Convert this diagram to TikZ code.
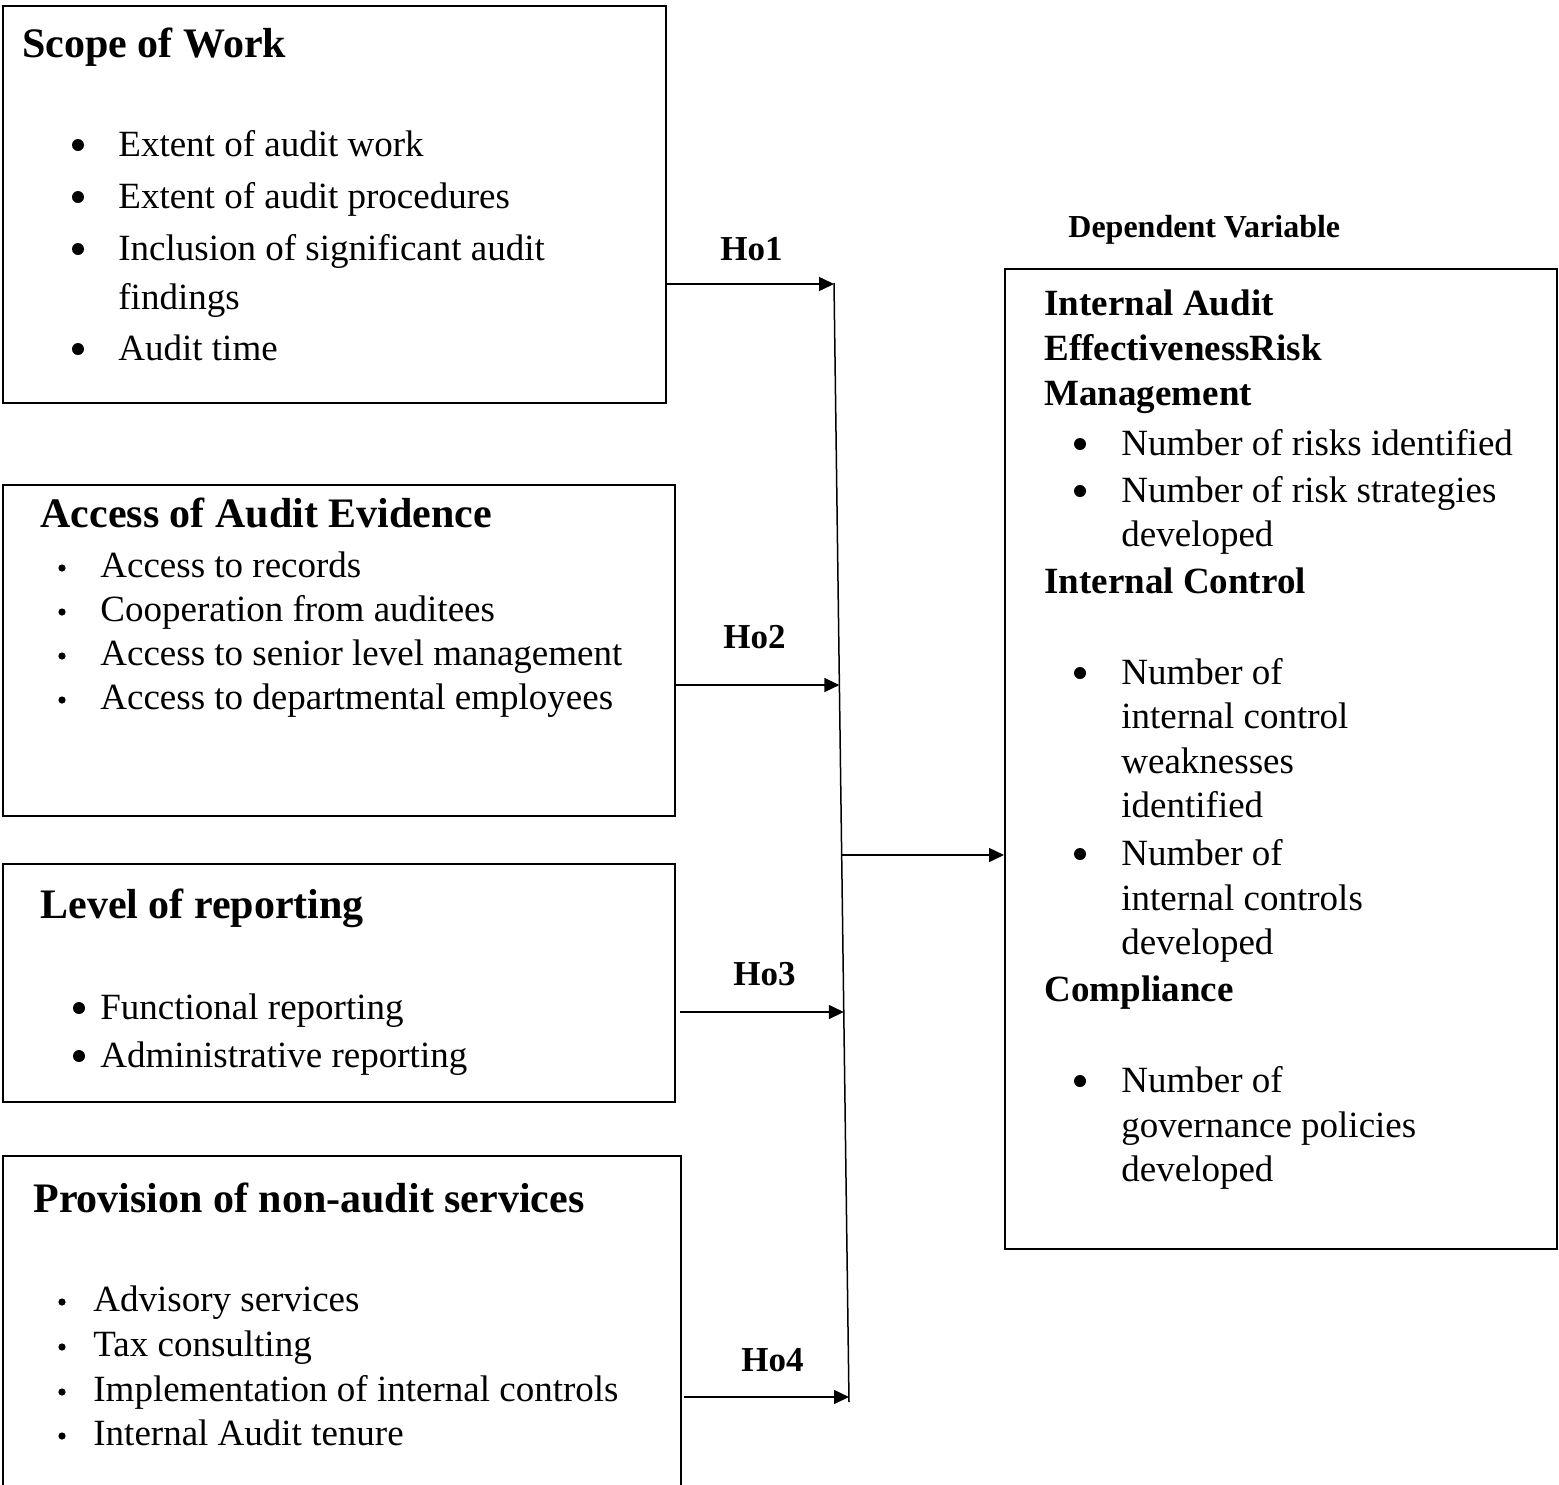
\documentclass[tikz,border=0pt]{standalone}
\usepackage{fontspec}
\setmainfont{Liberation Serif}
\usetikzlibrary{arrows.meta}
\begin{document}
\begin{tikzpicture}[x=0.5pt,y=-0.5pt,
  box/.style={draw,line width=1pt,inner sep=0pt,anchor=north west},
  body/.style={anchor=base west,inner sep=0pt,font=\fontsize{18.5}{22}\selectfont},
  head/.style={anchor=base west,inner sep=0pt,font=\fontsize{21}{25}\selectfont\bfseries},
  rhead/.style={anchor=base west,inner sep=0pt,font=\fontsize{18.5}{22}\selectfont\bfseries},
  bigdot/.style={circle,fill=black,inner sep=0pt,minimum size=6pt,yshift=5.5pt},
  smalldot/.style={circle,fill=black,inner sep=0pt,minimum size=3.6pt,yshift=4.5pt},
  hlabel/.style={anchor=base west,inner sep=0pt,font=\fontsize{17.5}{20}\selectfont\bfseries},
  deplabel/.style={anchor=base west,inner sep=0pt,font=\fontsize{16}{19}\selectfont\bfseries},
  conn/.style={line width=0.75pt,-{Triangle[length=7.5pt,width=7pt]}}
]
\useasboundingbox (0,0) rectangle (1559,1484);

% boxes
\node[box,minimum width=331.5pt,minimum height=198.5pt] (scope) at (2,5) {};
\node[box,minimum width=336pt,minimum height=165.5pt] (access) at (2,484) {};
\node[box,minimum width=336pt,minimum height=119pt] (level) at (2,863) {};
\node[box,minimum width=339pt,minimum height=175pt] (prov) at (2,1155) {};
\node[box,minimum width=276pt,minimum height=490pt] (dep) at (1004,268) {};

% box 1
\node[head] (h1) at (22,57) {Scope of Work};
\node[bigdot] (b11) at (78,156) {};
\node[body] (t11) at (118,156) {Extent of audit work};
\node[bigdot] (b12) at (78,208) {};
\node[body] (t12) at (118,208) {Extent of audit procedures};
\node[bigdot] (b13) at (78,260) {};
\node[body] (t13) at (118,260) {Inclusion of significant audit};
\node[body] (t13b) at (118,309) {findings};
\node[bigdot] (b14) at (78,360) {};
\node[body] (t14) at (118,360) {Audit time};

% box 2
\node[head] (h2) at (40,527) {Access of Audit Evidence};
\node[smalldot] (b21) at (62,577) {};
\node[body] (t21) at (100,577) {Access to records};
\node[smalldot] (b22) at (62,621) {};
\node[body] (t22) at (100,621) {Cooperation from auditees};
\node[smalldot] (b23) at (62,665) {};
\node[body] (t23) at (100,665) {Access to senior level management};
\node[smalldot] (b24) at (62,709) {};
\node[body] (t24) at (100,709) {Access to departmental employees};

% box 3
\node[head] (h3) at (40,918) {Level of reporting};
\node[bigdot] (b31) at (79,1019) {};
\node[body] (t31) at (100,1019) {Functional reporting};
\node[bigdot] (b32) at (79,1067) {};
\node[body] (t32) at (100,1067) {Administrative reporting};

% box 4
\node[head] (h4) at (33,1212) {Provision of non-audit services};
\node[smalldot] (b41) at (62,1311) {};
\node[body] (t41) at (93,1311) {Advisory services};
\node[smalldot] (b42) at (62,1356) {};
\node[body] (t42) at (93,1356) {Tax consulting};
\node[smalldot] (b43) at (62,1401) {};
\node[body] (t43) at (93,1401) {Implementation of internal controls};
\node[smalldot] (b44) at (62,1445) {};
\node[body] (t44) at (93,1445) {Internal Audit tenure};

% dependent box
\node[deplabel] (dv) at (1068,237) {Dependent Variable};
\node[rhead] (r1) at (1044,315) {Internal Audit};
\node[rhead] (r2) at (1044,360) {EffectivenessRisk};
\node[rhead] (r3) at (1044,405) {Management};
\node[bigdot] (rb1) at (1080,455) {};
\node[body] (rt1) at (1121,455) {Number of risks identified};
\node[bigdot] (rb2) at (1080,502) {};
\node[body] (rt2) at (1121,502) {Number of risk strategies};
\node[body] (rt2b) at (1121,546) {developed};
\node[rhead] (r4) at (1044,593) {Internal Control};
\node[bigdot] (rb3) at (1080,684) {};
\node[body] (rt3) at (1121,684) {Number of};
\node[body] (rt3b) at (1121,728) {internal control};
\node[body] (rt3c) at (1121,773) {weaknesses};
\node[body] (rt3d) at (1121,817) {identified};
\node[bigdot] (rb4) at (1080,865) {};
\node[body] (rt4) at (1121,865) {Number of};
\node[body] (rt4b) at (1121,910) {internal controls};
\node[body] (rt4c) at (1121,954) {developed};
\node[rhead] (r5) at (1044,1001) {Compliance};
\node[bigdot] (rb5) at (1080,1092) {};
\node[body] (rt5) at (1121,1092) {Number of};
\node[body] (rt5b) at (1121,1137) {governance policies};
\node[body] (rt5c) at (1121,1181) {developed};

% hypothesis labels
\node[hlabel] (ho1) at (720,260) {Ho1};
\node[hlabel] (ho2) at (723,648) {Ho2};
\node[hlabel] (ho3) at (733,985) {Ho3};
\node[hlabel] (ho4) at (741,1371) {Ho4};

% collector line
\coordinate (ltop) at (834,283);
\coordinate (lbot) at (849,1402);
\coordinate (a1) at (834,284);
\coordinate (a2) at (839.4,685);
\coordinate (am) at (841.7,855);
\coordinate (a3) at (843.8,1012);
\coordinate (a4) at (849,1397);
\draw[line width=0.75pt] (ltop) -- (lbot);

\draw[conn] (scope.east |- a1) -- (a1);
\draw[conn] (access.east |- a2) -- (a2);
\draw[conn] ([xshift=2pt]level.east |- a3) -- (a3);
\draw[conn] ([xshift=1pt]prov.east |- a4) -- (a4);
\draw[conn] (am) -- (dep.west |- am);
\end{tikzpicture}
\end{document}
